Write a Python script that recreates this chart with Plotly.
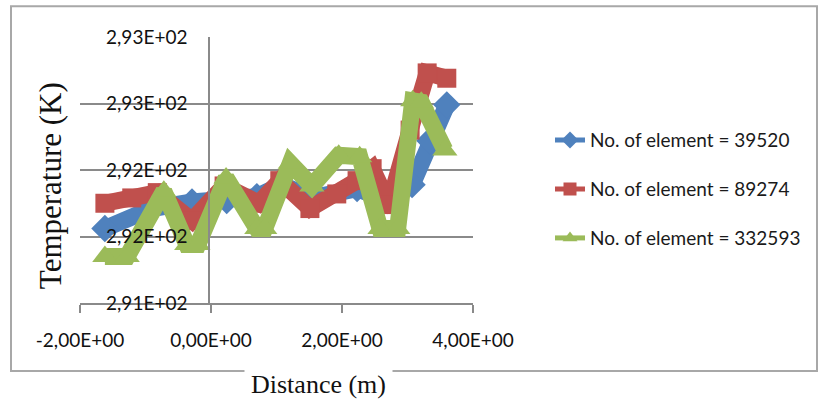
import plotly.graph_objects as go

# Series data: distance (m) and temperature (K) for each mesh size
x_39520 = [-1.62, -0.90, -0.29, 0.24, 0.70, 1.08, 1.54, 2.23, 2.69, 3.07, 3.34, 3.60]
t_39520 = [291.56, 291.71, 291.76, 291.77, 291.80, 291.89, 291.79, 291.86, 291.77, 291.89, 292.22, 292.49]

x_89274 = [-1.62, -1.21, -0.82, -0.29, 0.20, 0.73, 1.05, 1.51, 1.92, 2.23, 2.46, 2.72, 3.04, 3.30, 3.60]
t_89274 = [291.75, 291.79, 291.83, 291.62, 291.88, 291.75, 291.92, 291.71, 291.82, 291.92, 292.01, 291.74, 292.30, 292.73, 292.69]

x_332593 = [-1.62, -1.28, -0.72, -0.37, -0.20, 0.23, 0.70, 0.82, 1.21, 1.54, 1.95, 2.27, 2.58, 2.85, 3.08, 3.21, 3.57]
t_332593 = [291.35, 291.35, 291.84, 291.44, 291.44, 291.94, 291.56, 291.56, 292.05, 291.88, 292.11, 292.10, 291.56, 291.56, 292.52, 292.51, 292.15]

series_names = ["No. of element = 39520", "No. of element = 89274", "No. of element = 332593"]

x_tick_vals = [-2, 0, 2, 4]
x_tick_text = ["-2,00E+00", "0,00E+00", "2,00E+00", "4,00E+00"]
y_tick_vals = [291, 291.5, 292, 292.5, 293]
y_tick_text = ["2,91E+02", "2,92E+02", "2,92E+02", "2,93E+02", "2,93E+02"]

W, H = 818, 405
X0, X1 = 80, 473      # plot area, pixels
Y0, Y1 = 36.7, 303


def px_x(p):
    return (p - X0) / (X1 - X0)


def px_y(p):
    return (Y1 - p) / (Y1 - Y0)


colors = ["#4F81BD", "#C0504D", "#9BBB59"]
symbols = ["diamond", "square", "triangle-up"]
sizes = [21, 19, 22]
xs = [x_39520, x_89274, x_332593]
ts = [t_39520, t_89274, t_332593]

fig = go.Figure()
for x, t, c, s, m in zip(xs, ts, colors, symbols, sizes):
    fig.add_trace(go.Scatter(
        x=x, y=t, mode="lines+markers",
        line=dict(color=c, width=17),
        marker=dict(symbol=s, size=m, color=c),
        showlegend=False, hoverinfo="skip",
    ))

# legend entries, one legend box per series
legend_rows = [140, 189, 238]
legend_ids = ["legend", "legend2", "legend3"]
for name, c, s, lid in zip(series_names, colors, symbols, legend_ids):
    fig.add_trace(go.Scatter(
        x=[None], y=[None], mode="lines+markers", name=name,
        line=dict(color=c, width=5), marker=dict(symbol=s, size=13, color=c),
        legend=lid,
    ))

legend_common = dict(
    xanchor="left", yanchor="middle", xref="paper", yref="paper",
    bgcolor="rgba(0,0,0,0)", borderwidth=0,
    font=dict(family="Lato", size=19, color="#1a1a1a"),
)
fig.update_layout(
    legend=dict(x=px_x(550), y=px_y(legend_rows[0]), **legend_common),
    legend2=dict(x=px_x(550), y=px_y(legend_rows[1]), **legend_common),
    legend3=dict(x=px_x(550), y=px_y(legend_rows[2]), **legend_common),
)

axis_gray = "#8a8a8a"
fig.update_xaxes(
    range=[-2, 4], domain=[0, 1],
    tickvals=x_tick_vals, ticktext=x_tick_text,
    showgrid=False, zeroline=False,
    showline=True, linecolor=axis_gray, linewidth=1.5,
    ticks="outside", ticklen=8, tickcolor=axis_gray, tickwidth=1.5,
    ticklabelstandoff=11,
    tickfont=dict(family="Lato", size=19, color="#111111"),
)
fig.update_yaxes(
    range=[291, 293],
    tickvals=y_tick_vals, ticktext=y_tick_text,
    anchor="free", position=px_x(209),
    showgrid=True, gridcolor=axis_gray, gridwidth=1.5,
    zeroline=False,
    showline=True, linecolor=axis_gray, linewidth=1.5,
    ticks="", ticklabelstandoff=17,
    tickfont=dict(family="Lato", size=19, color="#111111"),
)

# chart frame
fig.add_shape(
    type="rect", xref="paper", yref="paper",
    x0=px_x(11), x1=px_x(817), y0=px_y(371), y1=px_y(6),
    line=dict(color="#a8a8a8", width=2), layer="below",
)

fig.add_annotation(
    text="Distance (m)", xref="paper", yref="paper",
    x=px_x(318), y=px_y(385), xanchor="center", yanchor="middle",
    showarrow=False, bgcolor="white", borderpad=6,
    font=dict(family="Liberation Serif", size=26, color="#111111"),
)
fig.add_annotation(
    text="Temperature (K)", xref="paper", yref="paper",
    x=px_x(50), y=px_y(186), xanchor="center", yanchor="middle",
    textangle=-90, showarrow=False,
    font=dict(family="Liberation Serif", size=31, color="#111111"),
)

fig.update_layout(
    width=W, height=H,
    margin=dict(l=X0, r=W - X1, t=Y0, b=H - Y1),
    paper_bgcolor="white", plot_bgcolor="white",
)

fig.write_html("out.html")
